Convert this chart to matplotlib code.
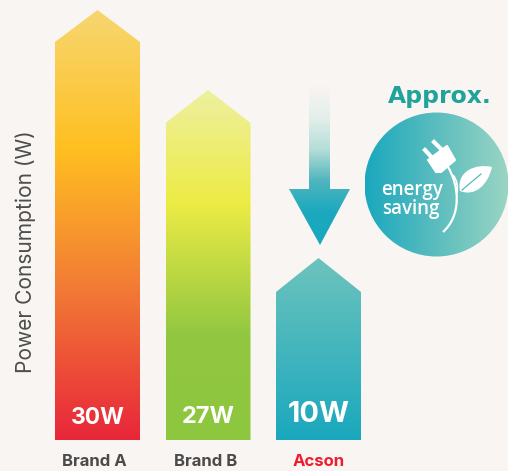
import numpy as np
from matplotlib import pyplot as plt
from matplotlib.colors import LinearSegmentedColormap
from matplotlib.patches import Circle, Polygon, PathPatch
from matplotlib.path import Path
from matplotlib.transforms import ScaledTranslation

# Dados
brands = ['Brand A', 'Brand B', 'Acson']
watts = ['30W', '27W', '10W']
peak_heights = [430, 350, 182]
shoulder_heights = [398, 317, 148]

bg = '#F9F5F2'
teal = '#1AA8BE'

plt.rcParams['font.family'] = ['Inter', 'DejaVu Sans']

fig = plt.figure(figsize=(5.08, 4.71), dpi=100, facecolor=bg)

# Eixo do grafico: base das barras em y=440px
ax = fig.add_axes([0, 31 / 471, 1, 440 / 471])
ax.set_facecolor('none')
ax.set_xlim(-97.5 / 110.5, (508 - 97.5) / 110.5)
ax.set_ylim(0, 440)
for s in ax.spines.values():
    s.set_visible(False)
ax.set_yticks([])
ax.set_xticks(range(len(brands)))
ax.set_xticklabels(brands, fontsize=12, fontweight='bold', color='#4A4A4A')
ax.get_xticklabels()[2].set_color('#EE1C2E')
ax.tick_params(axis='x', length=0, pad=10)
# Desloca os rotulos em pixels para alinhar com a referencia
shift = [-3.5, -2, 0]
for lab, dx in zip(ax.get_xticklabels(), shift):
    lab.set_transform(lab.get_transform() + ScaledTranslation(dx / 100, 0, fig.dpi_scale_trans))
ax.set_ylabel('Power Consumption (W)', fontsize=15.1, color='#4D4D4D')
ax.yaxis.set_label_coords(36 / 508, 188 / 440)

colors = [
    [(0, '#E8263A'), (0.35, '#F27A35'), (0.68, '#FFC021'), (1, '#F7D670')],
    [(0, '#8DC63F'), (0.3, '#92C741'), (0.68, '#EDEB45'), (1, '#EEF0A0')],
    [(0, '#1AA8BE'), (1, '#6DC3BC')],
]
half = 85 / 110.5 / 2

for i in range(len(brands)):
    cmap = LinearSegmentedColormap.from_list('b' + str(i), colors[i])
    grad = np.linspace(1, 0, 256).reshape(-1, 1)
    im = ax.imshow(grad, cmap=cmap, aspect='auto', vmin=0, vmax=1,
                   extent=[i - half, i + half, 0, peak_heights[i]], zorder=2)
    shape = Polygon([(i - half, 0), (i - half, shoulder_heights[i]), (i, peak_heights[i]),
                     (i + half, shoulder_heights[i]), (i + half, 0)],
                    transform=ax.transData, fc='none', ec='none')
    ax.add_patch(shape)
    im.set_clip_path(shape)

ax.set_xlim(-97.5 / 110.5, (508 - 97.5) / 110.5)
ax.set_ylim(0, 440)

# Rotulos de valor dentro das barras
label_size = [16.5, 17, 20.8]
label_y = [22, 23, 26]
for i in range(len(brands)):
    ax.text(i, label_y[i], watts[i], color='white', fontsize=label_size[i], fontweight='bold',
            ha='center', va='center', zorder=3)

# Camada de decoracao em pixels
deco = fig.add_axes([0, 0, 1, 1])
deco.set_xlim(0, 508)
deco.set_ylim(471, 0)
deco.axis('off')
deco.patch.set_alpha(0)

# Seta
arrow_cmap = LinearSegmentedColormap.from_list('arrow', [bg, '#E4EFEA', '#B5DED8', '#4FB5BE', teal, teal],)
im = deco.imshow(np.linspace(0, 1, 256).reshape(-1, 1), cmap=arrow_cmap, aspect='auto',
                 extent=[285, 355, 245, 85], zorder=2)
arrow = Polygon([(309, 85), (330, 85), (330, 189), (350, 189), (320, 245), (289, 189), (309, 189)],
                transform=deco.transData, fc='none', ec='none')
deco.add_patch(arrow)
im.set_clip_path(arrow)

# Circulo
circle_cmap = LinearSegmentedColormap.from_list('circle', [teal, '#5BBDBE', '#9AD5C3'])
im = deco.imshow(np.linspace(0, 1, 256).reshape(1, -1), cmap=circle_cmap, aspect='auto',
                 extent=[365, 508, 257, 112], zorder=2)
circle = Circle((436.5, 184.5), 72, transform=deco.transData, fc='none', ec='none')
deco.add_patch(circle)
im.set_clip_path(circle)

deco.set_xlim(0, 508)
deco.set_ylim(471, 0)

deco.text(440, 96, 'Approx.', color='#1FA39B', fontsize=16.9, fontweight='bold', family='DejaVu Sans',
          ha='center', va='center', zorder=3)
deco.text(412.5, 190, 'energy', color='white', fontsize=13.5, family='Open Sans', fontweight='semibold',
          ha='center', va='center', zorder=3)
deco.text(411, 209, 'saving', color='white', fontsize=13.5, family='Open Sans', fontweight='semibold',
          ha='center', va='center', zorder=3)

# Plugue
deco.add_patch(Polygon([(428, 160), (447, 146), (455, 160), (441, 172), (436, 172)],
                       fc='white', ec='white', lw=1.5, joinstyle='round', zorder=3))
deco.plot([425, 435], [150, 161], color='white', lw=3, zorder=3)
deco.plot([434, 445], [142, 153], color='white', lw=3, zorder=3)

# Caule
stem = Path([(448, 167), (459, 185), (462, 215), (443, 232)],
            [Path.MOVETO, Path.CURVE4, Path.CURVE4, Path.CURVE4])
deco.add_patch(PathPatch(stem, fc='none', ec='white', lw=1.6, zorder=3))
stem2 = Path([(453, 175), (457, 180), (458, 186), (457, 193)],
             [Path.MOVETO, Path.CURVE4, Path.CURVE4, Path.CURVE4])
deco.add_patch(PathPatch(stem2, fc='none', ec='white', lw=1.2, zorder=3))

# Folha
leaf = Path([(460, 191), (456, 172), (475, 163), (492, 167),
             (488, 185), (475, 197), (460, 191), (460, 191)],
            [Path.MOVETO, Path.CURVE4, Path.CURVE4, Path.CURVE4,
             Path.CURVE4, Path.CURVE4, Path.CURVE4, Path.CLOSEPOLY])
deco.add_patch(PathPatch(leaf, fc='white', ec='none', zorder=3))
deco.plot([462, 481], [190, 174], color='#55BBBE', lw=0.9, zorder=4)

fig.savefig('out.png', dpi=100, facecolor=bg)
